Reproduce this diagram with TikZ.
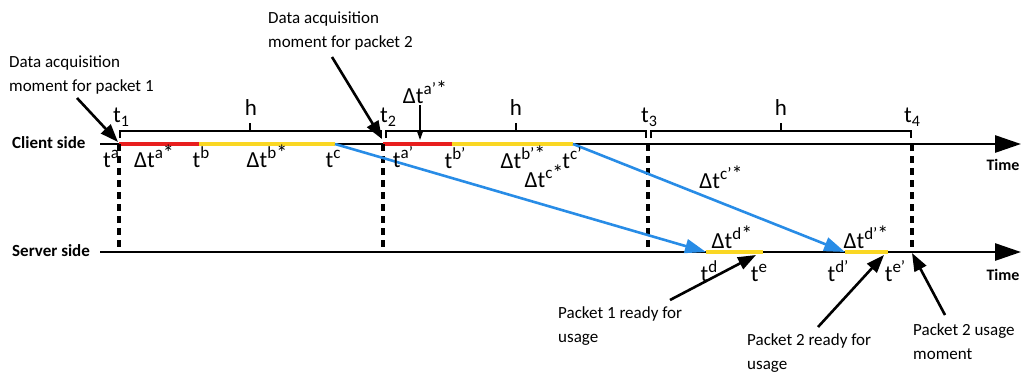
\documentclass[tikz,border=0pt]{standalone}
\usepackage{fontspec}
\setmainfont{Carlito}
\usetikzlibrary{arrows.meta}
\newcommand{\spx}[1]{\raisebox{8.5pt}{\fontsize{17}{17}\selectfont #1}}
\newcommand{\sbx}[1]{\raisebox{-4pt}{\fontsize{16}{16}\selectfont #1}}
\newcommand{\stx}{\raisebox{-2pt}{\fontsize{22}{22}\selectfont *}}
\begin{document}
\begin{tikzpicture}[x=1pt,y=-1pt,
  axisline/.style={line width=2.8pt},
  axis/.style={line width=2.8pt,-{Triangle[length=26pt,width=17pt]}},
  brk/.style={line width=2.4pt},
  dsh/.style={line width=3.2pt,dash pattern=on 7pt off 5pt},
  redseg/.style={line width=3.4pt,draw={rgb,255:red,232;green,30;blue,30}},
  yelseg/.style={line width=3.4pt,draw={rgb,255:red,250;green,215;blue,35}},
  blu/.style={line width=2.6pt,draw={rgb,255:red,40;green,140;blue,230},-{Triangle[length=21pt,width=14pt]}},
  ann/.style={line width=2.6pt,-{Triangle[length=18pt,width=13pt]}},
  small/.style={line width=1.3pt,-{Triangle[length=9pt,width=6pt]}},
  lab/.style={font=\fontsize{23}{26}\selectfont,inner sep=0pt,anchor=base},
  note/.style={font=\fontsize{17}{24}\selectfont,align=left,inner sep=0pt},
  side/.style={font=\fontsize{17}{20}\selectfont\bfseries,inner sep=0pt},
  tim/.style={font=\fontsize{16}{18}\selectfont\bfseries,inner sep=0pt}]
\useasboundingbox (0,0) rectangle (1024,376);

% axes
\coordinate (c0) at (100,144); \coordinate (cend) at (1021,144);
\coordinate (s0) at (100,252); \coordinate (send) at (1021,252);
\node[side,anchor=west] (cs) at (12,143) {Client side};
\node[side,anchor=west] (ss) at (12,251) {Server side};
\node[tim] (time1) at (1003,165) {Time};
\node[tim] (time2) at (1003,275) {Time};

% tick coordinates
\coordinate (t1c) at (119,144); \coordinate (t1s) at (119,252);
\coordinate (t2c) at (383,144); \coordinate (t2s) at (383,252);
\coordinate (t3c) at (648,144); \coordinate (t3s) at (648,252);
\coordinate (t4c) at (912,144); \coordinate (t4s) at (912,252);

% colored segments
\coordinate (tb) at (199,144); \coordinate (tc) at (335,144);
\coordinate (tbp) at (452,144); \coordinate (tcp) at (573,144);
\coordinate (td) at (706,252); \coordinate (te) at (763,252);
\coordinate (tdp) at (845,252); \coordinate (tep) at (888,252);

\draw[axisline] (c0) -- (t1c);
\draw[axisline] (tc) -- (t2c);
\draw[axis] (tcp) -- (cend);
\draw[axis] (s0) -- (send);
\draw[redseg] (t1c) -- (tb);
\draw[yelseg] (tb) -- (tc);
\draw[redseg] (t2c) -- (tbp);
\draw[yelseg] (tbp) -- (tcp);
\draw[yelseg] (td) -- (te);
\draw[yelseg] (tdp) -- (tep);

% dashed verticals
\draw[dsh] (t1c) -- (t1s);
\draw[dsh] (t2c) -- (t2s);
\draw[dsh] (t3c) -- (t3s);
\draw[dsh] (t4c) -- (t4s);

% brackets
\draw[brk] (120,138) -- (120,131) -- (381,131) -- (381,138);
\draw[brk] (250,131) -- (250,123);
\draw[brk] (386,138) -- (386,131) -- (646,131) -- (646,138);
\draw[brk] (516,131) -- (516,123);
\draw[brk] (651,138) -- (651,131) -- (911,131) -- (911,138);
\draw[brk] (781,131) -- (781,123);
\node[lab] (h1) at (251,115) {h};
\node[lab] (h2) at (516,115) {h};
\node[lab] (h3) at (781,115) {h};
\node[lab] (lt1) at (121,122) {t\sbx{1}};
\node[lab] (lt2) at (388,122) {t\sbx{2}};
\node[lab] (lt3) at (649,122) {t\sbx{3}};
\node[lab] (lt4) at (912,122) {t\sbx{4}};

% blue arrows
\draw[blu] (tc) -- (td);
\draw[blu] (tcp) -- (tdp);

% client labels
\node[lab] at (111,167) {t\spx{a}};
\node[lab] at (154,167) {Δt\spx{a\stx}};
\node[lab] at (201,167) {t\spx{b}};
\node[lab] at (267,167) {Δt\spx{b\stx}};
\node[lab] at (333,167) {t\spx{c}};
\node[lab] at (403,167) {t\spx{a’}};
\node[lab] at (455,168) {t\spx{b’}};
\node[lab] at (523,168) {Δt\spx{b’\stx}};
\node[lab] at (572,168) {t\spx{c’}};
\node[lab] at (544,187) {Δt\spx{c\stx}};
\node[lab] at (721,188) {Δt\spx{c’\stx}};
\node[lab] (dap) at (425,103) {Δt\spx{a’\stx}};
\coordinate (dapt) at (420,140);
\draw[small] (420,105) -- (dapt);

% server labels
\node[lab] at (732,248) {Δt\spx{d\stx}};
\node[lab] at (866,248) {Δt\spx{d’\stx}};
\node[lab] at (709,281) {t\spx{d}};
\node[lab] at (759,281) {t\spx{e}};
\node[lab] at (838,281) {t\spx{d’}};
\node[lab] at (895,281) {t\spx{e’}};

% annotations
\node[note,anchor=north west] (n1) at (9,56) {Data acquisition\\moment for packet 1};
\node[note,anchor=north west] (n2) at (268,12) {Data acquisition\\moment for packet 2};
\node[note,anchor=north west] (n3) at (558,306) {Packet 1 ready for\\usage};
\node[note,anchor=north west] (n4) at (747,333) {Packet 2 ready for\\usage};
\node[note,anchor=north west] (n5) at (913,323) {Packet 2 usage\\moment};
\coordinate (a1) at (118,142);
\coordinate (a2) at (382,139);
\coordinate (a3) at (756,255);
\coordinate (a4) at (884,255);
\coordinate (a5) at (912,253);
\draw[ann] (77,98) -- (a1);
\draw[ann] (332,57) -- (a2);
\draw[ann] (670,300) -- (a3);
\draw[ann] (818,327) -- (a4);
\draw[ann] (945,315) -- (a5);
\end{tikzpicture}
\end{document}
